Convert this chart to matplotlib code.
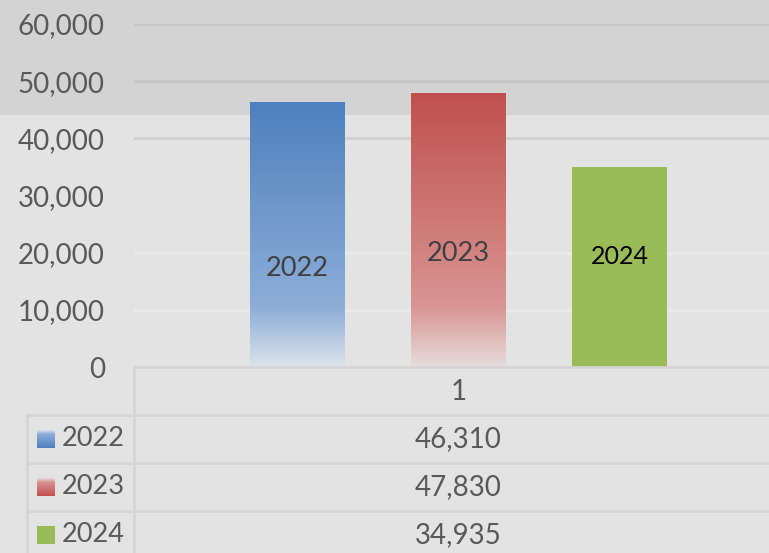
import matplotlib.pyplot as plt
import numpy as np
from matplotlib.colors import LinearSegmentedColormap
from matplotlib.patches import Rectangle
from matplotlib.transforms import blended_transform_factory

# Data
years = ["2022", "2023", "2024"]
values = [46310, 47830, 34935]
category = "1"
label_y = [17300, 19900, 19300]   # where the in-bar labels sit (value units)
yticks = [0, 10000, 20000, 30000, 40000, 50000, 60000]

# Style
plt.rcParams['font.family'] = ['Lato', 'DejaVu Sans']
txt = "#595959"
bg = "#e3e3e3"
band = "#d3d3d3"
line_c = "#d5d5d5"

blue = LinearSegmentedColormap.from_list("b", [(0, "#dde3eb"), (0.22, "#8eaed8"), (1, "#4e80bd")])
red = LinearSegmentedColormap.from_list("r", [(0, "#e6dcdc"), (0.22, "#d89593"), (1, "#c0504d")])
fills = [blue, red, "#9bbb59"]
label_colors = ["#404040", "#404040", "#000000"]
label_sizes = [19.5, 19.5, 18]

W, H = 769, 553
fig = plt.figure(figsize=(W / 100, H / 100), dpi=100, facecolor=bg)
fig.patches.append(Rectangle((0, 1 - 115 / H), 1, 115 / H, transform=fig.transFigure,
                             facecolor=band, edgecolor="none", zorder=-10))

# main plot area (extends past the right edge, as in the cropped original)
ax = fig.add_axes([134 / W, (H - 367) / H, 649 / W, 343 / H])
ax.set_facecolor("none")
ax.set_xlim(-0.5, 0.5)
ax.set_ylim(0, 60000)
for s in ax.spines.values():
    s.set_visible(False)
ax.set_xticks([])
ax.set_yticks(yticks)
ax.set_yticklabels([f"{v:,}" for v in yticks], fontsize=20, color=txt)
ax.tick_params(axis="y", length=0, pad=21)

grid_colors = ["#d3d3d3", "#eaeaea", "#eaeaea", "#e5e5e5", "#cfcfcf", "#c6c6c6", "#c6c6c6"]
for v, c in zip(yticks, grid_colors):
    ax.axhline(v, color=c, lw=2, zorder=0)

offset = 0.248
width = 0.146
grad = np.linspace(0, 1, 256).reshape(-1, 1)
for i, (yr, v) in enumerate(zip(years, values)):
    x = (i - 1) * offset
    if isinstance(fills[i], str):
        ax.bar(x, v, width, color=fills[i], zorder=2)
    else:
        ax.imshow(grad, cmap=fills[i], origin="lower", aspect="auto",
                  extent=[x - width / 2, x + width / 2, 0, v], zorder=2)
    ax.text(x, label_y[i], yr, ha="center", va="center", fontsize=label_sizes[i],
            color=label_colors[i], zorder=3)
ax.set_xlim(-0.5, 0.5)
ax.set_ylim(0, 60000)

# data table underneath, drawn in pixel space
ov = fig.add_axes([0, 0, 1, 1])
ov.set_xlim(0, W)
ov.set_ylim(H, 0)
ov.axis("off")
ov.patch.set_alpha(0)

row_top = [367, 415, 463, 511]
ov.plot([134, W], [367, 367], color=line_c, lw=2)
ov.plot([134, 134], [367, H], color=line_c, lw=2)
ov.plot([27, 27], [415, H], color=line_c, lw=2)
for y in row_top[1:]:
    ov.plot([27, W], [y, y], color=line_c, lw=2)

tx = blended_transform_factory(ax.transAxes, ov.transData)
ov.text(0.5, 392, category, transform=tx, ha="center", va="center", fontsize=20, color=txt)
for i, (yr, v) in enumerate(zip(years, values)):
    cy = row_top[i + 1] + 24
    ov.text(0.5, cy, f"{v:,}", transform=tx, ha="center", va="center", fontsize=20, color=txt)
    ov.text(62, cy, yr, ha="left", va="center", fontsize=19.5, color=txt)
    if isinstance(fills[i], str):
        ov.add_patch(Rectangle((37, cy - 9), 18, 18, facecolor=fills[i], edgecolor="none"))
    else:
        ov.imshow(grad, cmap=fills[i], origin="upper", aspect="auto",
                  extent=[37, 55, cy + 9, cy - 9])
ov.set_xlim(0, W)
ov.set_ylim(H, 0)

fig.savefig("out.png", dpi=100, facecolor=bg)
